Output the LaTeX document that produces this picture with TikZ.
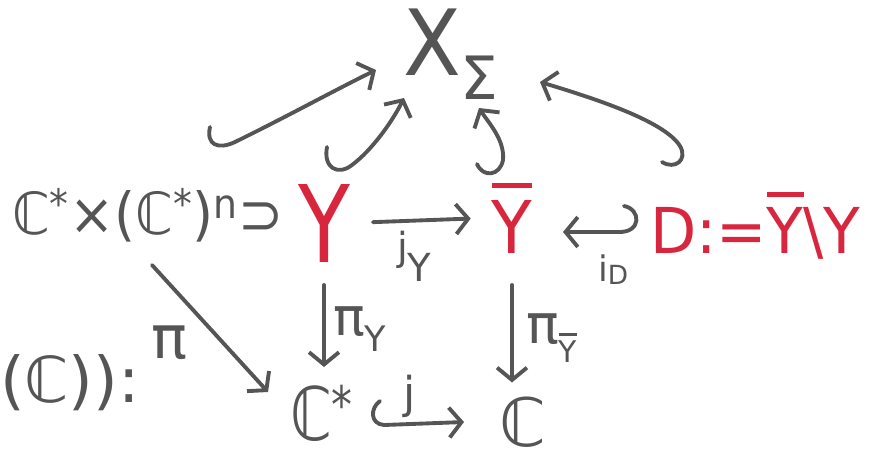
\documentclass[tikz,border=0pt]{standalone}
\usepackage{fontspec}
\setmainfont{DejaVu Sans}
\usepackage{graphicx}
\usetikzlibrary{arrows.meta,calc}
\definecolor{pen}{HTML}{555555}
\definecolor{ink}{HTML}{D7263D}
\newcommand\myoverbar[1]{\vbox{\hrule height 0.08em\kern 0.16em\hbox{#1}}}
\newcommand\fs[1]{\fontsize{#1}{#1}\selectfont}
\begin{document}
\begin{tikzpicture}[x=0.02cm,y=-0.02cm,
  penline/.style={draw=pen, line width=2.2pt, line cap=round, line join=round},
  arr/.style={penline, -{Straight Barb[length=7pt,width=17pt,line width=2.2pt]}},
  txt/.style={inner sep=0pt, outer sep=0pt, text=pen},
  red/.style={inner sep=0pt, outer sep=0pt, text=ink}]
\useasboundingbox (0,0) rectangle (879,454);

% top object
\node[txt, font=\fs{40}] (X) at (432,42) {\scalebox{1.2}[1.3]{X}};
\node[txt, font=\fs{34}] (S) at (479,78) {Σ};

% middle row
\node[txt, anchor=base west, font=\fs{33}] (L) at (12,234) {\scalebox{0.93}[1]{ℂ\textsuperscript{*}×(ℂ\textsuperscript{*})\textsuperscript{n}⊃}};
\node[red, anchor=base, font=\fs{42}] (Y) at (324,262) {\scalebox{1.15}[1.45]{Y}};
\node[red, anchor=base, font=\fs{36}] (Yb) at (512,253) {\scalebox{1.05}[1.15]{\myoverbar{Y}}};
\node[red, anchor=base west, font=\fs{36}] (D) at (650,253) {\scalebox{0.95}[1]{D:=\myoverbar{Y}\textbackslash Y}};

% bottom row
\node[txt, anchor=base west, font=\fs{36}] (P) at (0,402) {(ℂ)):};
\node[txt, anchor=base west, font=\fs{40}] (Cs) at (290,440) {\scalebox{0.85}[1.05]{ℂ\textsuperscript{*}}};
\node[txt, anchor=base west, font=\fs{38}] (C) at (499,446) {ℂ};

% labels
\node[txt, anchor=base west, font=\fs{22}] (ljy) at (397,260) {j\raisebox{-0.55em}{Y}};
\node[txt, anchor=base west, font=\fs{20}] (lid) at (598,281) {i\raisebox{-0.1em}{\fs{15}D}};
\node[txt, anchor=base west, font=\fs{34}] (lpi) at (151,358) {π};
\node[txt, anchor=base west, font=\fs{30}] (lpy) at (333,335) {π\raisebox{-0.32em}{\fs{20}Y}};
\node[txt, anchor=base west, font=\fs{31}] (lpyb) at (526,343) {π\raisebox{-0.35em}{\fs{17}\myoverbar{Y}}};
\node[txt, anchor=base west, font=\fs{25}] (lj) at (403,408) {j};

% free ends of the hooked arrows
\coordinate (a1s) at (210,127);  \coordinate (a1e) at (376,70);
\coordinate (a2s) at (327,147);  \coordinate (a2e) at (404,98);
\coordinate (a3s) at (477,164);  \coordinate (a3e) at (479,108);
\coordinate (a4s) at (662,162);  \coordinate (a4e) at (540,82);
\coordinate (ids) at (624,206);  \coordinate (ide) at (563,232);
\coordinate (js)  at (380,401);  \coordinate (je)  at (464,422);
\coordinate (ps)  at (152,265);  \coordinate (pe)  at (268,392);

% hooked arrows into X_Sigma
\draw[arr] (a1s) .. controls (206,145) and (218,150) .. (235,142)
  .. controls (290,115) and (335,90) .. (a1e);
\draw[arr] (a2s) .. controls (323,168) and (338,176) .. (352,165)
  .. controls (372,150) and (392,122) .. (a2e);
\draw[arr] (a3s) .. controls (483,178) and (500,176) .. (503,160)
  .. controls (505,140) and (488,122) .. (a3e);
\draw[arr] (a4s) .. controls (675,170) and (688,160) .. (680,146)
  .. controls (665,122) and (600,100) .. (a4e);

% middle row arrows
\draw[arr, shorten <=0.46cm, shorten >=0.42cm] (Y.east) -- (Yb.west);
\draw[arr] (ids) .. controls (641,209) and (642,233) .. (618,232) -- (ide);

% downward arrows
\draw[arr] (ps) -- (pe);
\draw[arr, shorten <=0.46cm, shorten >=0.36cm] (Y.south) -- (Y.south |- Cs.north);
\draw[arr, shorten <=0.64cm, shorten >=0.28cm] (Yb.south) -- (Yb.south |- C.north);

% bottom hook arrow
\draw[arr] (js) .. controls (370,408) and (370,424) .. (384,425) -- (je);
\end{tikzpicture}
\end{document}
